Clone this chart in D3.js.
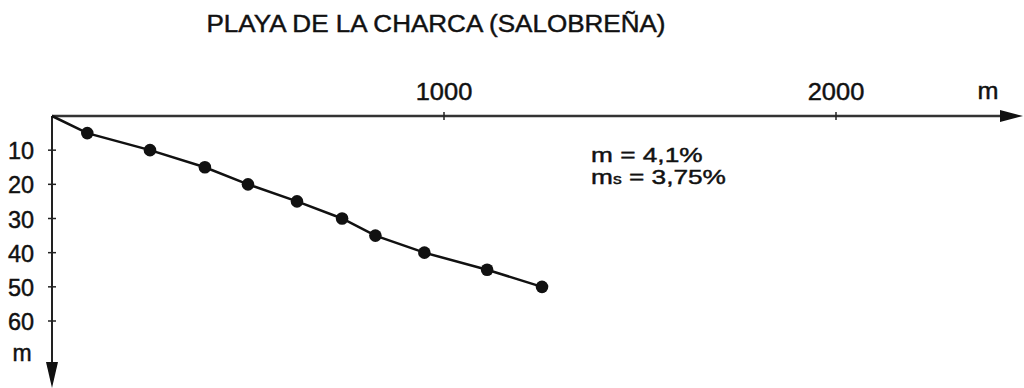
<!DOCTYPE html>
<html>
<head>
<meta charset="utf-8">
<script src="https://cdn.jsdelivr.net/npm/d3@7"></script>
<style>
  body { margin: 0; background: #fff; }
  text { font-family: "Liberation Sans", Arial, sans-serif; fill: #111; stroke: #111; stroke-width: 0.45px; }
</style>
</head>
<body>
<div id="chart"></div>
<script>
// beach profile: distance from shore (m) vs depth (m)
const distance = [0, 90, 250, 390, 500, 625, 740, 825, 950, 1110, 1250];
const depth = [0, 5, 10, 15, 20, 25, 30, 35, 40, 45, 50];
const xTicks = [1000, 2000];
const yTicks = [10, 20, 30, 40, 50, 60];
const title = "PLAYA DE LA CHARCA (SALOBREÑA)";

const W = 1024, H = 388;
const svg = d3.select("#chart").append("svg")
    .attr("width", W)
    .attr("height", H);

const x = d3.scaleLinear().domain([0, 2000]).range([52, 836]);
const y = d3.scaleLinear().domain([0, 60]).range([116, 321]);

// text in the scan is a bit wider than plain Arial
function label(px, py, str, size, anchor, sx) {
    return svg.append("text")
        .attr("transform", "translate(" + px + "," + py + ") scale(" + (sx || 1.08) + ",1)")
        .attr("text-anchor", anchor || "start")
        .style("font-size", size + "px")
        .text(str);
}

// title
label(436, 32, title, 24, "middle", 1.085);

// x axis with arrow
svg.append("line")
    .attr("x1", x(0)).attr("x2", 1004)
    .attr("y1", y(0)).attr("y2", y(0))
    .attr("stroke", "#333").attr("stroke-width", 2.5);
svg.append("path")
    .attr("d", d3.line()([[1000, y(0) - 6], [1023, y(0)], [1000, y(0) + 6]]) + "Z")
    .attr("fill", "#111");
svg.selectAll(".xt").data(xTicks).enter().append("line")
    .attr("x1", d => x(d)).attr("x2", d => x(d))
    .attr("y1", y(0) - 4).attr("y2", y(0) + 4)
    .attr("stroke", "#222").attr("stroke-width", 1.5);
xTicks.forEach(d => label(x(d), 100, d, 24, "middle", 1.06));
label(988, 99, "m", 24, "middle", 1.05);

// y axis with arrow
svg.append("line")
    .attr("x1", x(0)).attr("x2", x(0))
    .attr("y1", y(0)).attr("y2", 366)
    .attr("stroke", "#222").attr("stroke-width", 2);
svg.append("path")
    .attr("d", d3.line()([[x(0) - 6, 362], [x(0), 388], [x(0) + 6, 362]]) + "Z")
    .attr("fill", "#111");
svg.selectAll(".yt").data(yTicks).enter().append("line")
    .attr("x1", x(0) - 4).attr("x2", x(0) + 4)
    .attr("y1", d => y(d)).attr("y2", d => y(d))
    .attr("stroke", "#222").attr("stroke-width", 1.5);
yTicks.forEach(d => label(34, y(d) + 9, d, 23, "end", 1.02));
label(22, 361, "m", 23, "middle", 1.0);

// profile line and points
const pts = distance.map((d, i) => [d, depth[i]]);
svg.append("path")
    .datum(pts)
    .attr("d", d3.line().x(d => x(d[0])).y(d => y(d[1])))
    .attr("fill", "none")
    .attr("stroke", "#111")
    .attr("stroke-width", 2.5);
svg.selectAll(".pt").data(pts.slice(1)).enter().append("circle")
    .attr("cx", d => x(d[0]))
    .attr("cy", d => y(d[1]))
    .attr("r", 6.3)
    .attr("fill", "#111");

// slope notes, one text block with two lines
const note = svg.append("text")
    .attr("transform", "translate(591,162) scale(1.25,1)")
    .style("font-size", "21px");
note.append("tspan").attr("x", 0).attr("y", 0).text("m = 4,1%");
note.append("tspan").attr("x", 0).attr("y", 22).text("m");
note.append("tspan").style("font-size", "14px").text("s");
note.append("tspan").text(" = 3,75%");
</script>
</body>
</html>
